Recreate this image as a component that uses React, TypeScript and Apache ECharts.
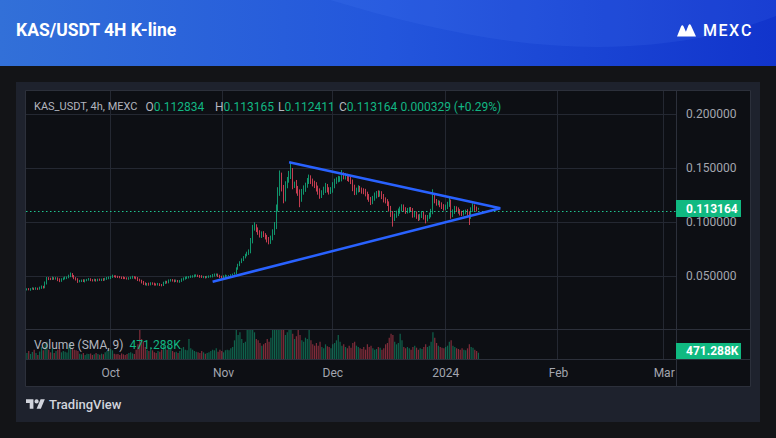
import React, { useEffect, useRef } from 'react';
import * as echarts from 'echarts';

// ---------- data (12h buckets) ----------
const FIRST_OPEN = 0.0379;
const PIP = 0.0001;
const START_UTC = Date.UTC(2023, 8, 8);
const SLOT_HOURS = 12;
const SLOT_COUNT = 357;
const MONTH_NAMES = ['Jan', 'Feb', 'Mar', 'Apr', 'May', 'Jun', 'Jul', 'Aug', 'Sep', 'Oct', 'Nov', 'Dec'];

const CLOSES = [
  0.0381, 0.0378, 0.0384, 0.0386, 0.0383, 0.0388, 0.0385, 0.0391, 0.0403, 0.0399,
  0.0436, 0.0482, 0.0478, 0.0474, 0.0483, 0.0479, 0.0481, 0.0468, 0.0458, 0.0472,
  0.0481, 0.0486, 0.0490, 0.0502, 0.0519, 0.0503, 0.0484, 0.0470, 0.0452, 0.0457,
  0.0462, 0.0455, 0.0463, 0.0468, 0.0472, 0.0466, 0.0462, 0.0467, 0.0463, 0.0470,
  0.0466, 0.0471, 0.0468, 0.0476, 0.0481, 0.0487, 0.0495, 0.0501, 0.0499, 0.0497,
  0.0493, 0.0490, 0.0487, 0.0484, 0.0482, 0.0479, 0.0482, 0.0487, 0.0492, 0.0490,
  0.0481, 0.0468, 0.0460, 0.0447, 0.0431, 0.0426, 0.0430, 0.0424, 0.0436, 0.0431,
  0.0426, 0.0423, 0.0427, 0.0421, 0.0420, 0.0437, 0.0448, 0.0444, 0.0459, 0.0466,
  0.0461, 0.0455, 0.0458, 0.0452, 0.0456, 0.0470, 0.0480, 0.0484, 0.0489, 0.0493,
  0.0497, 0.0501, 0.0504, 0.0507, 0.0502, 0.0498, 0.0493, 0.0495, 0.0491, 0.0494,
  0.0497, 0.0502, 0.0508, 0.0512, 0.0515, 0.0506, 0.0494, 0.0491, 0.0499, 0.0503,
  0.0504, 0.0507, 0.0513, 0.0520, 0.0529, 0.0571, 0.0606, 0.0631, 0.0652, 0.0676,
  0.0697, 0.0713, 0.0731, 0.0825, 0.0948, 0.0962, 0.0931, 0.0902, 0.0879, 0.0898,
  0.0885, 0.0866, 0.0842, 0.0820, 0.0852, 0.0905, 0.0962, 0.1130, 0.1280, 0.1420,
  0.1316, 0.1221, 0.1345, 0.1392, 0.1431, 0.1472, 0.1346, 0.1352, 0.1302, 0.1275,
  0.1220, 0.1281, 0.1310, 0.1342, 0.1380, 0.1407, 0.1385, 0.1360, 0.1342, 0.1315,
  0.1284, 0.1250, 0.1275, 0.1302, 0.1330, 0.1305, 0.1282, 0.1296, 0.1340, 0.1376,
  0.1392, 0.1400, 0.1407, 0.1438, 0.1418, 0.1427, 0.1407, 0.1395, 0.1376, 0.1318,
  0.1280, 0.1296, 0.1315, 0.1302, 0.1290, 0.1280, 0.1262, 0.1237, 0.1215, 0.1190,
  0.1220, 0.1246, 0.1268, 0.1255, 0.1268, 0.1240, 0.1206, 0.1195, 0.1176, 0.1130,
  0.1080, 0.1037, 0.1062, 0.1080, 0.1098, 0.1120, 0.1145, 0.1122, 0.1100, 0.1108,
  0.1120, 0.1114, 0.1068, 0.1080, 0.1052, 0.1037, 0.1060, 0.1080, 0.1048, 0.1028,
  0.1050, 0.1068, 0.1100, 0.1237, 0.1196, 0.1176, 0.1182, 0.1160, 0.1148, 0.1130,
  0.1142, 0.1165, 0.1190, 0.1068, 0.1095, 0.1130, 0.1118, 0.1100, 0.1088, 0.1080,
  0.1094, 0.1100, 0.1082, 0.1052, 0.1114, 0.1145, 0.1128, 0.1120, 0.113164,
];

// upper / lower wick lengths in pips (0.0001)
const WICK_UP = [
  8, 10, 6, 12, 9, 11, 7, 13, 12, 9,
  16, 12, 10, 9, 14, 8, 11, 9, 13, 10,
  9, 12, 8, 13, 16, 11, 9, 8, 12, 10,
  8, 11, 9, 8, 12, 10, 8, 11, 9, 8,
  9, 8, 12, 10, 13, 11, 9, 14, 8, 10,
  8, 10, 8, 12, 9, 8, 10, 11, 13, 9,
  8, 12, 10, 8, 10, 13, 8, 11, 9, 8,
  10, 8, 12, 9, 8, 13, 11, 10, 12, 9,
  8, 10, 12, 8, 9, 11, 10, 13, 11, 9,
  11, 9, 13, 11, 8, 10, 12, 9, 8, 10,
  11, 9, 13, 14, 11, 10, 8, 12, 10, 13,
  5, 4, 6, 5, 8, 12, 10, 9, 14, 11,
  12, 15, 18, 30, 28, 38, 20, 22, 25, 18,
  20, 15, 18, 22, 25, 30, 40, 35, 45, 60,
  40, 30, 35, 28, 45, 88, 30, 25, 40, 35,
  30, 28, 32, 25, 30, 35, 28, 20, 25, 30,
  25, 30, 22, 28, 35, 25, 20, 30, 32, 28,
  25, 30, 20, 46, 25, 30, 22, 28, 25, 20,
  30, 25, 28, 22, 20, 25, 30, 22, 25, 20,
  25, 30, 22, 28, 25, 20, 22, 25, 20, 18,
  22, 25, 20, 28, 30, 25, 22, 20, 18, 25,
  20, 22, 18, 25, 20, 22, 18, 25, 20, 22,
  18, 22, 25, 69, 30, 20, 22, 18, 25, 20,
  22, 25, 40, 20, 25, 22, 18, 20, 22, 18,
  20, 18, 22, 20, 25, 31, 20, 18, 3,
];
const WICK_DN = [
  10, 8, 12, 7, 10, 8, 11, 9, 7, 12,
  10, 12, 13, 9, 8, 11, 10, 13, 12, 9,
  8, 10, 12, 8, 10, 13, 11, 9, 13, 8,
  10, 8, 12, 9, 8, 11, 10, 8, 12, 9,
  8, 10, 11, 8, 9, 8, 12, 10, 8, 11,
  9, 8, 12, 10, 8, 9, 11, 8, 10, 12,
  9, 12, 8, 13, 11, 10, 13, 11, 8, 10,
  12, 9, 8, 11, 13, 10, 8, 11, 9, 8,
  10, 11, 8, 9, 12, 8, 10, 11, 8, 9,
  8, 10, 11, 8, 9, 12, 8, 10, 11, 8,
  9, 8, 12, 10, 8, 13, 11, 9, 8, 10,
  5, 4, 3, 5, 4, 8, 10, 12, 9, 11,
  10, 12, 15, 18, 20, 25, 22, 18, 20, 24,
  22, 25, 28, 24, 20, 18, 22, 25, 30, 35,
  30, 45, 28, 30, 25, 30, 40, 28, 35, 30,
  80, 30, 25, 28, 22, 25, 30, 28, 25, 30,
  28, 32, 25, 22, 30, 28, 25, 20, 22, 25,
  20, 22, 25, 28, 20, 22, 25, 20, 22, 30,
  28, 25, 20, 22, 25, 20, 22, 28, 25, 30,
  22, 20, 25, 22, 18, 25, 22, 20, 25, 30,
  30, 77, 25, 20, 22, 18, 20, 25, 22, 18,
  20, 18, 25, 22, 20, 25, 18, 20, 22, 38,
  20, 18, 22, 25, 20, 22, 18, 20, 25, 22,
  18, 20, 22, 35, 20, 18, 22, 20, 25, 22,
  18, 20, 22, 77, 20, 18, 22, 20, 4,
];

// volume in thousands
const VOLUMES_K = [
  450, 600, 380, 520, 700, 450, 300, 560, 900, 650,
  1100, 1300, 700, 500, 800, 450, 600, 700, 850, 500,
  600, 550, 480, 900, 1200, 800, 700, 650, 600, 400,
  350, 450, 300, 400, 380, 420, 300, 350, 450, 380,
  320, 400, 350, 500, 600, 700, 750, 650, 400, 350,
  380, 300, 420, 350, 300, 380, 450, 500, 420, 380,
  700, 1100, 2300, 1500, 1300, 900, 700, 600, 900, 650,
  500, 450, 600, 550, 700, 1200, 900, 700, 1000, 800,
  600, 500, 550, 450, 600, 800, 900, 700, 650, 1500,
  800, 700, 600, 550, 500, 450, 600, 500, 400, 450,
  500, 600, 700, 650, 800, 550, 700, 600, 500, 650,
  700, 650, 800, 900, 1400, 2300, 1800, 2000, 1500, 1200,
  1300, 2300, 2300, 2400, 2300, 2000, 1500, 1400, 1200, 1000,
  1100, 1200, 1500, 1300, 1600, 2300, 2400, 2400, 2400, 2300,
  2300, 2300, 1800, 2000, 2300, 2300, 1900, 1500, 1700, 2300,
  1800, 1400, 1300, 1600, 1500, 2300, 1400, 1100, 1000, 1200,
  1000, 1300, 900, 800, 1100, 950, 900, 800, 1100, 1200,
  1400, 1800, 1300, 1000, 1100, 900, 800, 1000, 850, 1200,
  1300, 1000, 900, 800, 750, 900, 700, 1100, 900, 1000,
  800, 700, 750, 900, 850, 700, 800, 1100, 1200, 1600,
  1900, 1800, 1300, 1100, 1200, 1900, 1400, 900, 800, 900,
  800, 700, 900, 1000, 850, 700, 800, 750, 900, 1100,
  900, 1000, 1300, 2000, 1600, 1200, 1000, 900, 850, 800,
  900, 1000, 1300, 1400, 1000, 900, 800, 750, 700, 800,
  700, 650, 800, 1100, 900, 850, 700, 600, 471.288,
];

// triangle trend lines: [slot index, price]
const TRI_UPPER = [[144, 0.1556], [260, 0.1130]];
const TRI_LOWER = [[102, 0.0450], [260, 0.1130]];

const LAST_PRICE = 0.113164;
const LEGEND_VALUES = { O: '0.112834', H: '0.113165', L: '0.112411', C: '0.113164', change: '0.000329 (+0.29%)' };
const LAST_VOLUME_LABEL = '471.288K';

// ---------- styles ----------
const FONT = 'Roboto, "Noto Sans", sans-serif';
const UP = '#12b683';
const DN = '#f2495f';
const UP_VOL = 'rgba(18,182,131,0.5)';
const DN_VOL = 'rgba(242,73,95,0.5)';
const GRID = '#242832';
const SEP = '#2c303b';
const TXT = '#b2b5be';
const AXIS_TXT = '#a3a6af';
const BOX = '#10b981';

echarts.graphic.registerShape(
  'tvLogo',
  echarts.graphic.extendPath('M14 22H7V11H0V4h14v18zM28 22h-8l7.5-18h8L28 22zM16 8a4 4 0 1 0 8 0a4 4 0 1 0 -8 0z', {})
);
echarts.graphic.registerShape(
  'headerWave',
  echarts.graphic.extendPath('M330 0C430 30 530 52 630 46C700 42 745 28 776 16L776 0Z', {})
);
echarts.graphic.registerShape(
  'mexcMark',
  echarts.graphic.extendPath('M677 36.5L681 26.5Q682.3 23.8 683.6 26.5L688 36.5ZM684 36.5L688.4 25.6Q689.7 22.8 691 25.6L696 36.5Z', {})
);

function buildOption() {
  const categories: string[] = [];
  const monthStart = new Map<number, string>();
  for (let i = 0; i < SLOT_COUNT; i++) {
    const d = new Date(START_UTC + i * SLOT_HOURS * 3600000);
    categories.push(d.toISOString().slice(0, 13));
    if (d.getUTCDate() === 1 && d.getUTCHours() === 0) {
      const m = d.getUTCMonth();
      monthStart.set(i, m === 0 ? String(d.getUTCFullYear()) : MONTH_NAMES[m]);
    }
  }
  const isMonth = (i: number) => monthStart.has(i);

  const opens = CLOSES.map((c, i) => (i === 0 ? FIRST_OPEN : CLOSES[i - 1]));
  const candleData = CLOSES.map((c, i) => {
    const o = opens[i];
    const h = Math.max(o, c) + WICK_UP[i] * PIP;
    const l = Math.min(o, c) - WICK_DN[i] * PIP;
    return [o, c, l, h];
  });
  const volData = VOLUMES_K.map((v, i) => ({
    value: v,
    itemStyle: { color: CLOSES[i] >= opens[i] ? UP_VOL : DN_VOL },
  }));

  const t = (x: number, y: number, text: string, fill: string, size = 12, weight: any = 'normal', z = 20) => ({
    type: 'text', x, y, z, silent: true,
    style: { text, fill, fontSize: size, fontFamily: FONT, fontWeight: weight, verticalAlign: 'middle', align: 'left' },
  });
  const pair = (x: number, y: number, key: string, value: string) => ({
    type: 'text', x, y, z: 20, silent: true,
    style: {
      text: `{k|${key}}{v|${value}}`, verticalAlign: 'middle', align: 'left',
      rich: {
        k: { fill: TXT, fontSize: 12, fontFamily: FONT },
        v: { fill: UP, fontSize: 12, fontFamily: FONT },
      },
    },
  });

  const graphic: any[] = [
    // header
    {
      type: 'rect', z: -20, silent: true, shape: { x: 0, y: 0, width: 776, height: 66 },
      style: {
        fill: new echarts.graphic.LinearGradient(0, 0, 1, 0, [
          { offset: 0, color: '#3270d8' },
          { offset: 0.5, color: '#2356dc' },
          { offset: 1, color: '#1134cc' },
        ]),
      },
    },
    { type: 'headerWave', z: -19, silent: true, x: 0, y: 0, style: { fill: 'rgba(90,140,255,0.12)' } },
    t(16, 30, 'KAS/USDT 4H K-line', '#ffffff', 17.5, 'bold'),
    { type: 'mexcMark', z: 20, silent: true, x: 0, y: 0, style: { fill: '#ffffff' } },
    t(703, 30.5, 'M', '#ffffff', 16, 500),
    t(718.5, 30.5, 'E', '#ffffff', 16, 500),
    t(729, 30.5, 'X', '#ffffff', 16, 500),
    t(741, 30.5, 'C', '#ffffff', 16, 500),
    // panel + chart background
    { type: 'rect', z: -20, silent: true, shape: { x: 16, y: 82, width: 744, height: 340 }, style: { fill: '#1e222d' } },
    { type: 'rect', z: -19, silent: true, shape: { x: 25.5, y: 90.5, width: 725, height: 296 }, style: { fill: '#0d0f14', stroke: SEP, lineWidth: 1 } },
    // separators
    { type: 'line', z: 15, silent: true, shape: { x1: 676.5, y1: 91, x2: 676.5, y2: 387 }, style: { stroke: SEP, lineWidth: 1 } },
    { type: 'line', z: 15, silent: true, shape: { x1: 26, y1: 329.5, x2: 750, y2: 329.5 }, style: { stroke: SEP, lineWidth: 1 } },
    { type: 'line', z: 15, silent: true, shape: { x1: 26, y1: 359.5, x2: 750, y2: 359.5 }, style: { stroke: SEP, lineWidth: 1 } },
    // legend
    t(34, 106.5, 'KAS_USDT, 4h, MEXC', TXT, 11),
    pair(145.5, 106.5, 'O', LEGEND_VALUES.O),
    pair(215, 106.5, 'H', LEGEND_VALUES.H),
    pair(278, 106.5, 'L', LEGEND_VALUES.L),
    pair(339, 106.5, 'C', LEGEND_VALUES.C),
    t(400.5, 106.5, LEGEND_VALUES.change, UP, 12),
    t(34, 344.5, 'Volume (SMA, 9)', TXT, 12),
    t(129.5, 344.5, LAST_VOLUME_LABEL, UP, 12),
    // price / volume boxes
    { type: 'rect', z: 100, silent: true, shape: { x: 676, y: 200, width: 65, height: 17 }, style: { fill: BOX } },
    t(686, 208.7, LAST_PRICE.toFixed(6), '#ffffff', 12, 'bold', 101),
    { type: 'rect', z: 100, silent: true, shape: { x: 676, y: 343, width: 65, height: 16 }, style: { fill: BOX } },
    t(686, 351.2, LAST_VOLUME_LABEL, '#ffffff', 12, 'bold', 101),
    // TradingView footer
    { type: 'tvLogo', z: 20, silent: true, x: 26, y: 397.2, scaleX: 0.53, scaleY: 0.53, style: { fill: '#d1d4dc' } },
    t(49, 404.5, 'TradingView', '#d1d4dc', 13, 500),
  ];

  const xAxisBase = (gridIndex: number) => ({
    type: 'category', gridIndex, data: categories, boundaryGap: true,
    axisLine: { show: false }, axisTick: { show: false },
    splitLine: { show: true, interval: isMonth, lineStyle: { color: GRID, width: 1 } },
  });

  return {
    animation: false,
    backgroundColor: '#131417',
    graphic,
    grid: [
      { left: 26, top: 91, width: 650, height: 239.3 },
      { left: 26, top: 329, width: 650, height: 30 },
    ],
    xAxis: [
      { ...xAxisBase(0), axisLabel: { show: false } },
      {
        ...xAxisBase(1),
        axisLabel: {
          show: true, interval: isMonth, formatter: (_v: string, i: number) => monthStart.get(i) ?? '',
          color: AXIS_TXT, fontSize: 12, fontFamily: FONT, margin: 8,
        },
      },
    ],
    yAxis: [
      {
        type: 'value', gridIndex: 0, position: 'right', min: 0, max: 0.2216, interval: 0.05,
        axisLine: { show: false }, axisTick: { show: false },
        splitLine: { show: true, showMinLine: false, showMaxLine: false, lineStyle: { color: GRID } },
        axisLabel: {
          color: AXIS_TXT, fontSize: 12, fontFamily: FONT, margin: 10, align: 'left',
          showMinLabel: false, showMaxLabel: false, formatter: (v: number) => v.toFixed(6),
        },
      },
      { type: 'value', gridIndex: 1, min: 0, max: 2250, show: false },
    ],
    series: [
      {
        type: 'candlestick', xAxisIndex: 0, yAxisIndex: 0, data: candleData, barWidth: 1.2, z: 3,
        itemStyle: { color: UP, color0: DN, borderColor: UP, borderColor0: DN, borderWidth: 0.8 },
        markLine: {
          silent: true, symbol: ['none', 'none'], label: { show: false },
          lineStyle: { color: '#1fc48e', type: [1.5, 2.5], width: 1.2 },
          data: [{ yAxis: LAST_PRICE }],
        },
      },
      {
        type: 'line', xAxisIndex: 0, yAxisIndex: 0, data: TRI_UPPER, symbol: 'none', z: 6,
        lineStyle: { color: '#2962ff', width: 2.5 },
      },
      {
        type: 'line', xAxisIndex: 0, yAxisIndex: 0, data: TRI_LOWER, symbol: 'none', z: 6,
        lineStyle: { color: '#2962ff', width: 2.5 },
      },
      { type: 'bar', xAxisIndex: 1, yAxisIndex: 1, data: volData, barWidth: 1.2, z: 2 },
    ],
  };
}

export default function App() {
  const ref = useRef<HTMLDivElement>(null);
  useEffect(() => {
    if (!ref.current) return;
    const chart = echarts.init(ref.current, null, { renderer: 'svg' });
    chart.setOption(buildOption() as any);
    return () => chart.dispose();
  }, []);
  return <div ref={ref} style={{ position: 'fixed', left: 0, top: 0, width: 776, height: 438 }} />;
}
